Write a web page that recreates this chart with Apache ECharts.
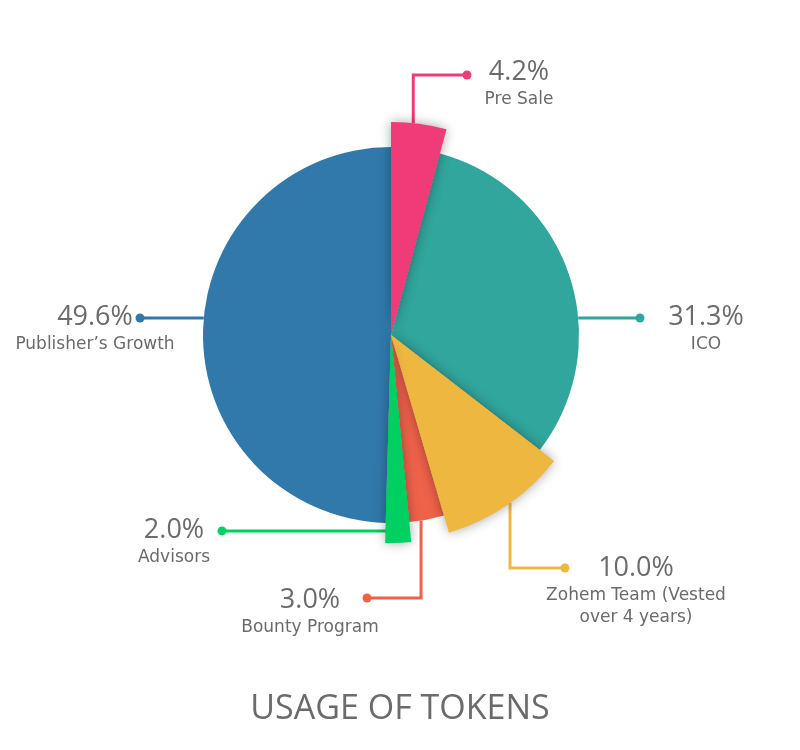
<!DOCTYPE html>
<html>
<head>
<meta charset="utf-8">
<script src="https://cdn.jsdelivr.net/npm/echarts@6/dist/echarts.min.js"></script>
<style>
  html, body { margin: 0; padding: 0; background: #fff; }
  #chart { width: 800px; height: 750px; }
</style>
</head>
<body>
<div id="chart"></div>
<script>
  // token split
  var categories = ['Pre Sale', 'ICO', 'Zohem Team (Vested\nover 4 years)', 'Bounty Program', 'Advisors', 'Publisher\u2019s Growth']
  var shares = [4.2, 31.3, 10.0, 3.0, 2.0, 49.6]

  // styles
  var colors = ['#ef3b78', '#31a69c', '#eeb840', '#ef624a', '#00cf62', '#3179ab']
  var textColor = '#6b6b6b'
  var cx = 391
  var cy = 335
  var baseR = 188
  // some slices stick out of the pie
  var sliceR = [213, 188, 206, 188, 208, 188]

  // label routes, relative to the pie centre (deg = clockwise from 12 o'clock)
  var spots = [
    {deg: 6, r: 213, elbowY: -260, dotX: 76, textX: 128, textY: -263},
    {deg: 84.8, r: 188, elbowY: null, dotX: 249, textX: 315, textY: -18},
    {deg: 144.7, r: 206, elbowY: 233, dotX: 174, textX: 245, textY: 233},
    {deg: 170.8, r: 188, elbowY: 263, dotX: -24, textX: -81, textY: 265},
    {deg: 178, r: 196, elbowY: null, dotX: -169, textX: -217, textY: 195},
    {deg: 275.2, r: 188, elbowY: null, dotX: -251, textX: -296, textY: -18}
  ]

  function polar(deg, r) {
    var a = deg * Math.PI / 180
    return [cx + r * Math.sin(a), cy - r * Math.cos(a)]
  }

  function route(i) {
    var s = spots[i]
    var start = polar(s.deg, s.r)
    if (s.elbowY !== null) {
      return [start, [start[0], cy + s.elbowY], [cx + s.dotX, cy + s.elbowY]]
    }
    return [start, [cx + s.dotX, start[1]]]
  }

  var baseData = categories.map(function (name, i) {
    return {name: name, value: shares[i], itemStyle: {color: colors[i]}}
  })

  var series = []

  // the pie itself, with the text labels and their lines
  series.push({
    type: 'pie',
    center: [cx, cy],
    radius: [0, baseR],
    startAngle: 90,
    avoidLabelOverlap: false,
    silent: true,
    itemStyle: {borderWidth: 0},
    label: {
      show: true,
      position: 'outside',
      formatter: function (p) {
        return '{p|' + shares[p.dataIndex].toFixed(1) + '%}\n{n|' + p.name + '}'
      },
      rich: {
        p: {fontFamily: 'Open Sans', fontSize: 27, lineHeight: 34, color: textColor, align: 'center'},
        n: {fontFamily: 'DejaVu Sans', fontSize: 17, lineHeight: 22, color: textColor, align: 'center'}
      }
    },
    labelLine: {show: true, smooth: false, length: 10, length2: 10, lineStyle: {width: 3}},
    labelLayout: function (p) {
      var s = spots[p.dataIndex]
      return {
        x: cx + s.textX,
        y: cy + s.textY - 17,
        align: 'center',
        verticalAlign: 'top',
        labelLinePoints: route(p.dataIndex)
      }
    },
    data: baseData
  })

  // slices that stick out, drawn over the pie with a shadow
  sliceR.forEach(function (r, k) {
    if (r <= baseR) return
    series.push({
      type: 'pie',
      center: [cx, cy],
      radius: [0, r],
      startAngle: 90,
      silent: true,
      label: {show: false},
      labelLine: {show: false},
      data: categories.map(function (name, i) {
        var own = i === k
        return {
          name: name,
          value: shares[i],
          itemStyle: {
            borderWidth: 0,
            color: own ? colors[i] : 'rgba(0,0,0,0)',
            shadowBlur: own ? 12 : 0,
            shadowColor: 'rgba(0,0,0,0.35)'
          }
        }
      })
    })
  })

  // dots at the end of each label line
  var dotRich = {}
  colors.forEach(function (c, i) {
    dotRich['d' + i] = {width: 9, height: 9, borderRadius: 5, backgroundColor: c}
  })
  series.push({
    type: 'pie',
    center: [cx, cy],
    radius: [0, baseR],
    startAngle: 90,
    silent: true,
    avoidLabelOverlap: false,
    itemStyle: {color: 'rgba(0,0,0,0)', borderWidth: 0},
    label: {
      show: true,
      position: 'outside',
      formatter: function (p) { return '{d' + p.dataIndex + '|}' },
      rich: dotRich
    },
    labelLine: {show: false},
    labelLayout: function (p) {
      var pts = route(p.dataIndex)
      var end = pts[pts.length - 1]
      return {x: end[0], y: end[1], align: 'center', verticalAlign: 'middle'}
    },
    data: baseData.map(function (d) { return {name: d.name, value: d.value} })
  })

  var myChart = echarts.init(document.getElementById('chart'))
  myChart.setOption({
    animation: false,
    backgroundColor: '#fff',
    title: {
      text: 'USAGE OF TOKENS',
      left: 'center',
      top: 687,
      textStyle: {fontFamily: 'Open Sans', fontSize: 34, fontWeight: 'normal', color: textColor}
    },
    series: series
  })
</script>
</body>
</html>
